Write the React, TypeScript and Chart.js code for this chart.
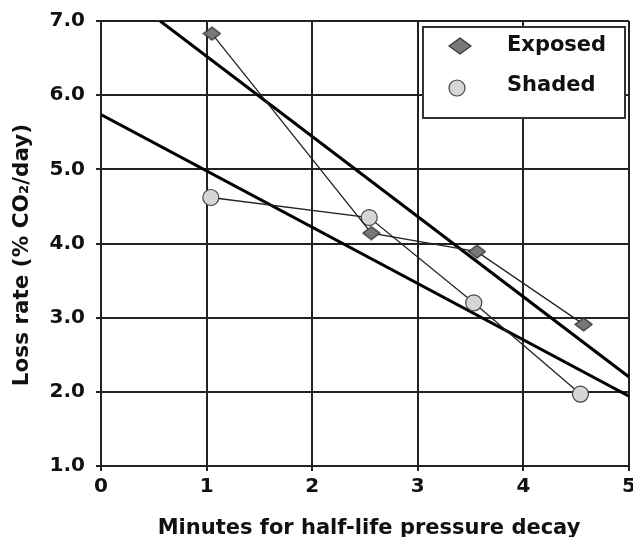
import React, { useEffect, useRef } from "react";
import { Chart, registerables } from "chart.js";

Chart.register(...registerables);

const exposedX = [1.05, 2.56, 3.56, 4.57];
const exposedY = [6.83, 4.14, 3.89, 2.91];
const shadedX = [1.04, 2.54, 3.53, 4.54];
const shadedY = [4.62, 4.35, 3.2, 1.97];
const exposedTrendX = [0.56, 5];
const exposedTrendY = [7.0, 2.2];
const shadedTrendX = [0, 5];
const shadedTrendY = [5.74, 1.94];
const xTicks = [0, 1, 2, 3, 4, 5];
const yTicks = [1, 2, 3, 4, 5, 6, 7];
const seriesNames = ["Exposed", "Shaded"];
const xTitle = "Minutes for half-life pressure decay";
const yTitle = "Loss rate (% CO\u2082/day)";

const FONT = "'DejaVu Sans', 'Liberation Sans', Arial, sans-serif";

function makeDiamond(w: number, h: number): HTMLCanvasElement {
  const c = document.createElement("canvas");
  c.width = w + 2;
  c.height = h + 2;
  const ctx = c.getContext("2d")!;
  const cx = (w + 2) / 2;
  const cy = (h + 2) / 2;
  ctx.beginPath();
  ctx.moveTo(cx, cy - h / 2);
  ctx.lineTo(cx + w / 2, cy);
  ctx.lineTo(cx, cy + h / 2);
  ctx.lineTo(cx - w / 2, cy);
  ctx.closePath();
  ctx.fillStyle = "#787878";
  ctx.fill();
  ctx.strokeStyle = "#333";
  ctx.lineWidth = 1.2;
  ctx.stroke();
  return c;
}

const pts = (xs: number[], ys: number[]) => xs.map((x, i) => ({ x, y: ys[i] }));

export default function App() {
  const ref = useRef<HTMLCanvasElement>(null);
  useEffect(() => {
    const diamond = makeDiamond(17, 13);
    const legendDiamond = makeDiamond(22, 16);
    const decorPlugin = {
      id: "decor",
      afterDraw(chart: any) {
        const ctx = chart.ctx;
        const area = chart.chartArea;
        ctx.save();
        ctx.fillStyle = "#111";
        ctx.font = `bold 21px ${FONT}`;
        ctx.textAlign = "center";
        ctx.textBaseline = "middle";
        ctx.fillText(xTitle, (area.left + area.right) / 2 + 4, 529);
        ctx.save();
        ctx.translate(22, 255);
        ctx.rotate(-Math.PI / 2);
        ctx.font = `bold 21.5px ${FONT}`;
        ctx.fillText(yTitle, 0, 0);
        ctx.restore();
        const x = 423, y = 27, w = 202, h = 91;
        ctx.fillStyle = "#ffffff";
        ctx.fillRect(x, y, w, h);
        ctx.strokeStyle = "#333";
        ctx.lineWidth = 2;
        ctx.strokeRect(x, y, w, h);
        ctx.drawImage(legendDiamond, 460 - legendDiamond.width / 2, 46 - legendDiamond.height / 2);
        ctx.beginPath();
        ctx.arc(457, 88, 8, 0, Math.PI * 2);
        ctx.fillStyle = "#d6d6d6";
        ctx.fill();
        ctx.strokeStyle = "#444";
        ctx.lineWidth = 1.2;
        ctx.stroke();
        ctx.fillStyle = "#111";
        ctx.textAlign = "left";
        ctx.fillText(seriesNames[0], 507, 46);
        ctx.fillText(seriesNames[1], 507, 86);
        ctx.restore();
      },
    };
    const chart = new Chart(ref.current!, {
      type: "scatter",
      data: {
        datasets: [
          {
            label: seriesNames[0],
            data: pts(exposedX, exposedY),
            showLine: true,
            borderColor: "#222",
            borderWidth: 1.3,
            pointStyle: diamond as any,
            pointRadius: 9,
            order: 0,
          },
          {
            label: seriesNames[1],
            data: pts(shadedX, shadedY),
            showLine: true,
            borderColor: "#222",
            borderWidth: 1.3,
            pointStyle: "circle",
            pointRadius: 8,
            pointBackgroundColor: "#d6d6d6",
            pointBorderColor: "#444",
            pointBorderWidth: 1.2,
            order: 0,
          },
          {
            label: "Exposed trend",
            data: pts(exposedTrendX, exposedTrendY),
            showLine: true,
            borderColor: "#000",
            borderWidth: 3,
            pointRadius: 0,
            order: 1,
          },
          {
            label: "Shaded trend",
            data: pts(shadedTrendX, shadedTrendY),
            showLine: true,
            borderColor: "#000",
            borderWidth: 3,
            pointRadius: 0,
            order: 1,
          },
        ],
      },
      options: {
        responsive: false,
        animation: false,
        layout: { autoPadding: false, padding: { left: 0, right: 4, top: 21, bottom: 0 } },
        plugins: { legend: { display: false }, tooltip: { enabled: false } },
        scales: {
          x: {
            type: "linear",
            min: 0,
            max: 5,
            afterBuildTicks: (s: any) => {
              s.ticks = xTicks.map((v) => ({ value: v }));
            },
            afterFit: (s: any) => {
              s.height = 71;
              s.paddingLeft = 0;
              s.paddingRight = 0;
            },
            grid: { color: "#222", lineWidth: 2, tickLength: 5, drawTicks: true },
            border: { color: "#222", width: 2 },
            ticks: {
              color: "#111",
              font: { family: FONT, size: 20, weight: "bold" },
              padding: 4,
              maxRotation: 0,
              callback: (v: any) => String(v),
            },
          },
          y: {
            type: "linear",
            min: 1,
            max: 7,
            afterBuildTicks: (s: any) => {
              s.ticks = yTicks.map((v) => ({ value: v }));
            },
            afterFit: (s: any) => {
              s.width = 101;
              s.paddingTop = 0;
              s.paddingBottom = 0;
            },
            grid: { color: "#222", lineWidth: 2, tickLength: 5 },
            border: { color: "#222", width: 2 },
            ticks: {
              color: "#111",
              font: { family: FONT, size: 20, weight: "bold" },
              padding: 11,
              callback: (v: any) => Number(v).toFixed(1),
            },
          },
        },
      },
      plugins: [decorPlugin],
    });
    return () => chart.destroy();
  }, []);
  return (
    <div style={{ position: "fixed", left: 0, top: 0, width: 633, height: 537, background: "#fff" }}>
      <canvas ref={ref} width={633} height={537} />
    </div>
  );
}
